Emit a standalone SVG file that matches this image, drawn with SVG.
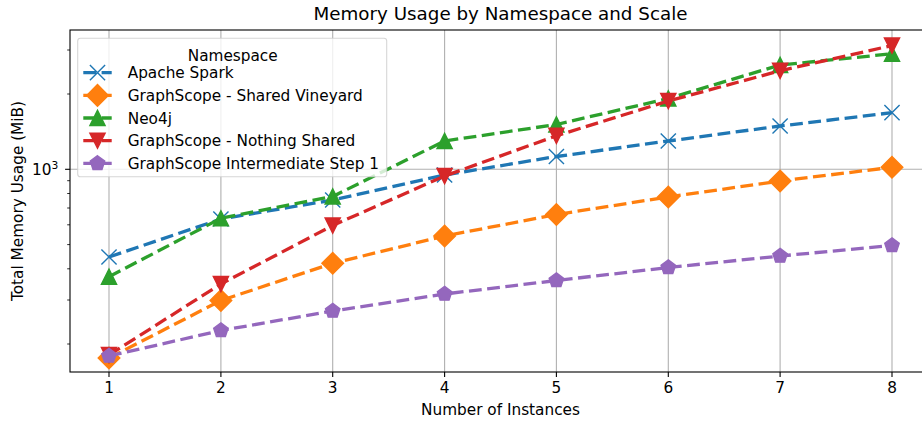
<svg xmlns="http://www.w3.org/2000/svg" xmlns:xlink="http://www.w3.org/1999/xlink" width="922" height="424" viewBox="0 0 922 424">
<style>
text{font-family:"DejaVu Sans","Liberation Sans",sans-serif;fill:#000}
.tk{font-size:15.3px}
.grid{stroke:#b0b0b0;stroke-width:1.1;fill:none}
.spine{stroke:#000;stroke-width:1.1;fill:none;stroke-linecap:square}
.tick{stroke:#000;stroke-width:1.1}
.mtick{stroke:#000;stroke-width:0.83}
.ln{fill:none;stroke-width:3.3;stroke-dasharray:12.8 5.5;stroke-linejoin:round}
</style>
<defs>
<path id="mx" d="M-7.6,-7.6L7.6,7.6M-7.6,7.6L7.6,-7.6" fill="none" stroke="#1f77b4" stroke-width="1.4"/>
<polygon id="md" points="0,-10.8 10.8,0 0,10.8 -10.8,0" fill="#ff7f0e" stroke="#ff7f0e" stroke-width="1.4" stroke-linejoin="miter"/>
<polygon id="mu" points="0,-7.6 -7.6,7.6 7.6,7.6" fill="#2ca02c" stroke="#2ca02c" stroke-width="1.4" stroke-linejoin="miter"/>
<polygon id="mv" points="0,7.6 -7.6,-7.6 7.6,-7.6" fill="#d62728" stroke="#d62728" stroke-width="1.4" stroke-linejoin="miter"/>
<polygon id="mp" points="0,-7.6 7.23,-2.35 4.47,6.15 -4.47,6.15 -7.23,-2.35" fill="#9467bd" stroke="#9467bd" stroke-width="1.4" stroke-linejoin="miter"/>
</defs>
<rect width="922" height="424" fill="#fff"/>

<g id="grid">
<line class="grid" x1="109" y1="30" x2="109" y2="372"/>
<line class="grid" x1="220.9" y1="30" x2="220.9" y2="372"/>
<line class="grid" x1="332.7" y1="30" x2="332.7" y2="372"/>
<line class="grid" x1="444.6" y1="30" x2="444.6" y2="372"/>
<line class="grid" x1="556.4" y1="30" x2="556.4" y2="372"/>
<line class="grid" x1="668.3" y1="30" x2="668.3" y2="372"/>
<line class="grid" x1="780.1" y1="30" x2="780.1" y2="372"/>
<line class="grid" x1="892" y1="30" x2="892" y2="372"/>
<line class="grid" x1="70" y1="169.3" x2="931" y2="169.3"/>
</g>

<g id="series-apache-spark">
<polyline class="ln" stroke="#1f77b4" points="109,257 220.9,219 332.7,200 444.6,175 556.4,156.5 668.3,141 780.1,126 892,112.7"/>
<use xlink:href="#mx" x="109" y="257"/><use xlink:href="#mx" x="220.9" y="219"/><use xlink:href="#mx" x="332.7" y="200"/><use xlink:href="#mx" x="444.6" y="175"/><use xlink:href="#mx" x="556.4" y="156.5"/><use xlink:href="#mx" x="668.3" y="141"/><use xlink:href="#mx" x="780.1" y="126"/><use xlink:href="#mx" x="892" y="112.7"/>
</g>
<g id="series-shared-vineyard">
<polyline class="ln" stroke="#ff7f0e" points="109,358 220.9,300.5 332.7,263.3 444.6,236 556.4,214.5 668.3,197 780.1,181 892,167.3"/>
<use xlink:href="#md" x="109" y="358"/><use xlink:href="#md" x="220.9" y="300.5"/><use xlink:href="#md" x="332.7" y="263.3"/><use xlink:href="#md" x="444.6" y="236"/><use xlink:href="#md" x="556.4" y="214.5"/><use xlink:href="#md" x="668.3" y="197"/><use xlink:href="#md" x="780.1" y="181"/><use xlink:href="#md" x="892" y="167.3"/>
</g>
<g id="series-neo4j">
<polyline class="ln" stroke="#2ca02c" points="109,276.7 220.9,218.3 332.7,196.5 444.6,141 556.4,124.5 668.3,98.5 780.1,65 892,53.8"/>
<use xlink:href="#mu" x="109" y="276.7"/><use xlink:href="#mu" x="220.9" y="218.3"/><use xlink:href="#mu" x="332.7" y="196.5"/><use xlink:href="#mu" x="444.6" y="141"/><use xlink:href="#mu" x="556.4" y="124.5"/><use xlink:href="#mu" x="668.3" y="98.5"/><use xlink:href="#mu" x="780.1" y="65"/><use xlink:href="#mu" x="892" y="53.8"/>
</g>
<g id="series-nothing-shared">
<polyline class="ln" stroke="#d62728" points="109,355 220.9,284 332.7,225.5 444.6,176 556.4,135.8 668.3,101 780.1,70.8 892,45.5"/>
<use xlink:href="#mv" x="109" y="355"/><use xlink:href="#mv" x="220.9" y="284"/><use xlink:href="#mv" x="332.7" y="225.5"/><use xlink:href="#mv" x="444.6" y="176"/><use xlink:href="#mv" x="556.4" y="135.8"/><use xlink:href="#mv" x="668.3" y="101"/><use xlink:href="#mv" x="780.1" y="70.8"/><use xlink:href="#mv" x="892" y="45.5"/>
</g>
<g id="series-intermediate-step-1">
<polyline class="ln" stroke="#9467bd" points="109,356 220.9,330.5 332.7,311 444.6,294 556.4,280.5 668.3,267.5 780.1,256 892,245.5"/>
<use xlink:href="#mp" x="109" y="356"/><use xlink:href="#mp" x="220.9" y="330.5"/><use xlink:href="#mp" x="332.7" y="311"/><use xlink:href="#mp" x="444.6" y="294"/><use xlink:href="#mp" x="556.4" y="280.5"/><use xlink:href="#mp" x="668.3" y="267.5"/><use xlink:href="#mp" x="780.1" y="256"/><use xlink:href="#mp" x="892" y="245.5"/>
</g>

<g id="axes">
<rect class="spine" x="70" y="30" width="861" height="342"/>
<g id="xticks">
<line class="tick" x1="109" y1="372" x2="109" y2="376.9"/>
<line class="tick" x1="220.9" y1="372" x2="220.9" y2="376.9"/>
<line class="tick" x1="332.7" y1="372" x2="332.7" y2="376.9"/>
<line class="tick" x1="444.6" y1="372" x2="444.6" y2="376.9"/>
<line class="tick" x1="556.4" y1="372" x2="556.4" y2="376.9"/>
<line class="tick" x1="668.3" y1="372" x2="668.3" y2="376.9"/>
<line class="tick" x1="780.1" y1="372" x2="780.1" y2="376.9"/>
<line class="tick" x1="892" y1="372" x2="892" y2="376.9"/>
<text class="tk" x="109" y="393.4" text-anchor="middle">1</text>
<text class="tk" x="220.9" y="393.4" text-anchor="middle">2</text>
<text class="tk" x="332.7" y="393.4" text-anchor="middle">3</text>
<text class="tk" x="444.6" y="393.4" text-anchor="middle">4</text>
<text class="tk" x="556.4" y="393.4" text-anchor="middle">5</text>
<text class="tk" x="668.3" y="393.4" text-anchor="middle">6</text>
<text class="tk" x="780.1" y="393.4" text-anchor="middle">7</text>
<text class="tk" x="892" y="393.4" text-anchor="middle">8</text>
</g>
<g id="yticks">
<line class="tick" x1="65.1" y1="169.3" x2="70" y2="169.3"/>
<line class="mtick" x1="67.2" y1="344" x2="70" y2="344"/>
<line class="mtick" x1="67.2" y1="300" x2="70" y2="300"/>
<line class="mtick" x1="67.2" y1="268.8" x2="70" y2="268.8"/>
<line class="mtick" x1="67.2" y1="244.6" x2="70" y2="244.6"/>
<line class="mtick" x1="67.2" y1="224.8" x2="70" y2="224.8"/>
<line class="mtick" x1="67.2" y1="208" x2="70" y2="208"/>
<line class="mtick" x1="67.2" y1="193.5" x2="70" y2="193.5"/>
<line class="mtick" x1="67.2" y1="180.7" x2="70" y2="180.7"/>
<line class="mtick" x1="67.2" y1="94" x2="70" y2="94"/>
<line class="mtick" x1="67.2" y1="50" x2="70" y2="50"/>
<text class="tk" x="32" y="175">10<tspan font-size="10.7px" dy="-6">3</tspan></text>
</g>
<text class="tk" x="500.5" y="415" text-anchor="middle">Number of Instances</text>
<text class="tk" transform="translate(23,201) rotate(-90)" text-anchor="middle">Total Memory Usage (MiB)</text>
<text x="500.5" y="19.7" text-anchor="middle" font-size="18.3px">Memory Usage by Namespace and Scale</text>
</g>

<g id="legend">
<rect x="77.7" y="38.3" width="309" height="138.4" rx="2.8" fill="#fff" fill-opacity="0.8" stroke="#cccccc" stroke-opacity="0.8" stroke-width="1.1"/>
<text class="tk" x="232.7" y="60.5" text-anchor="middle">Namespace</text>
<g id="leg-apache-spark"><line class="ln" stroke="#1f77b4" x1="83.3" y1="72.7" x2="111.7" y2="72.7"/><use xlink:href="#mx" x="97.5" y="72.7"/><text class="tk" x="127.7" y="78.2">Apache Spark</text></g>
<g id="leg-shared-vineyard"><line class="ln" stroke="#ff7f0e" x1="83.3" y1="95.4" x2="111.7" y2="95.4"/><use xlink:href="#md" x="97.5" y="95.4"/><text class="tk" x="127.7" y="100.9">GraphScope - Shared Vineyard</text></g>
<g id="leg-neo4j"><line class="ln" stroke="#2ca02c" x1="83.3" y1="118" x2="111.7" y2="118"/><use xlink:href="#mu" x="97.5" y="118"/><text class="tk" x="127.7" y="123.5">Neo4j</text></g>
<g id="leg-nothing-shared"><line class="ln" stroke="#d62728" x1="83.3" y1="140.7" x2="111.7" y2="140.7"/><use xlink:href="#mv" x="97.5" y="140.7"/><text class="tk" x="127.7" y="146.2">GraphScope - Nothing Shared</text></g>
<g id="leg-intermediate"><line class="ln" stroke="#9467bd" x1="83.3" y1="163.3" x2="111.7" y2="163.3"/><use xlink:href="#mp" x="97.5" y="163.3"/><text class="tk" x="127.7" y="168.8">GraphScope Intermediate Step 1</text></g>
</g>
</svg>
